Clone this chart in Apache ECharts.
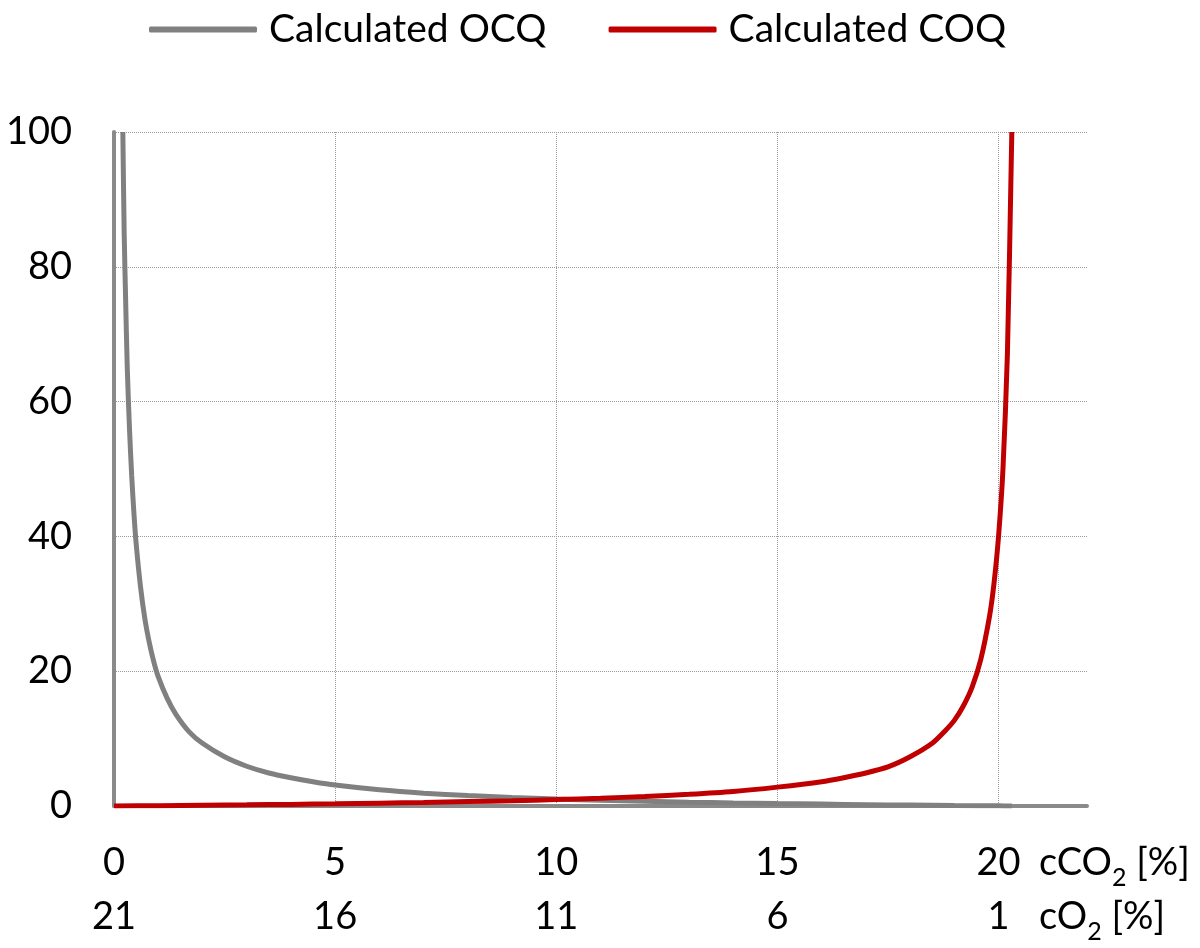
<!DOCTYPE html>
<html>
<head>
<meta charset="utf-8">
<script src="https://cdn.jsdelivr.net/npm/echarts@6/dist/echarts.min.js"></script>
<style>
html,body{margin:0;padding:0;background:#fff;}
#chart{width:1200px;height:948px;}
</style>
</head>
<body>
<div id="chart"></div>
<script>
// ---- data ----
const seriesNames = ['Calculated OCQ', 'Calculated COQ'];

const ocqX = [0.2, 0.23, 0.26, 0.3, 0.35, 0.4, 0.45, 0.5, 0.6, 0.7, 0.8, 0.9, 1.0, 1.2, 1.4, 1.7, 2.0, 2.5, 3.0, 3.5, 4.0, 4.5, 5, 6, 7, 8, 9, 10, 11, 12, 13, 14, 15, 16, 17, 18, 19, 20, 20.3];
const ocqY = [100, 85, 76, 65, 56, 49, 43.5, 39, 32.5, 27.7, 24.2, 21.4, 19.2, 16, 13.6, 11, 9.3, 7.3, 5.9, 4.9, 4.2, 3.6, 3.1, 2.4, 1.9, 1.55, 1.27, 1.04, 0.85, 0.7, 0.57, 0.46, 0.36, 0.28, 0.2, 0.13, 0.07, 0.02, 0];

const coqX = [0, 1, 2, 3, 4, 5, 6, 7, 8, 9, 10, 11, 12, 13, 14, 15, 16, 16.5, 17, 17.5, 18, 18.5, 18.8, 19, 19.2, 19.4, 19.6, 19.8, 19.9, 20.0, 20.1, 20.2, 20.3];
const coqY = [0, 0.05, 0.11, 0.17, 0.24, 0.32, 0.42, 0.52, 0.65, 0.79, 0.95, 1.16, 1.41, 1.73, 2.15, 2.8, 3.6, 4.2, 4.9, 5.8, 7.3, 9.3, 11.2, 12.7, 14.8, 17.6, 21.8, 28.3, 33.2, 40, 50, 67, 100];

const cco2Ticks = [0, 5, 10, 15, 20];
const co2Ticks = [21, 16, 11, 6, 1];
const yTicks = [0, 20, 40, 60, 80, 100];

// ---- chart ----
const FONT = 'Lato';
const ocqData = ocqX.map((x, i) => [x, ocqY[i]]);
const coqData = coqX.map((x, i) => [x, coqY[i]]);

const chart = echarts.init(document.getElementById('chart'), null, {renderer: 'canvas'});
chart.setOption({
  animation: false,
  backgroundColor: '#ffffff',
  textStyle: {fontFamily: FONT},
  legend: {
    data: seriesNames,
    left: 144,
    top: 5,
    icon: 'roundRect',
    itemWidth: 108,
    itemHeight: 6,
    itemGap: 62,
    textStyle: {fontFamily: FONT, fontSize: 39, color: '#000', padding: [0, 0, 0, 7]}
  },
  grid: {left: 114, right: 113, top: 132, bottom: 142, outerBoundsMode: 'none'},
  xAxis: {
    type: 'value',
    min: 0,
    max: 22,
    interval: 5,
    axisLine: {show: true, lineStyle: {color: '#8a8a8a', width: 4}},
    axisTick: {show: false},
    splitLine: {show: true, showMinLine: false, showMaxLine: false, lineStyle: {type: 'dotted', color: '#9a9a9a', width: 1}},
    axisLabel: {
      margin: 30,
      fontFamily: FONT,
      fontSize: 38,
      color: '#000',
      lineHeight: 54,
      showMaxLabel: false,
      formatter: function (v) {
        const i = cco2Ticks.indexOf(v);
        if (i < 0) return '';
        return cco2Ticks[i] + '\n' + co2Ticks[i];
      }
    },
    name: '{a|cCO}{s|2}{a| [%]}\n{a|cO}{s|2}{a| [%]}',
    nameLocation: 'end',
    nameGap: -48,
    nameMoveOverlap: false,
    nameTextStyle: {
      align: 'left',
      verticalAlign: 'top',
      padding: [30, 0, 0, 0],
      lineHeight: 54,
      rich: {
        a: {fontFamily: FONT, fontSize: 38, color: '#000', lineHeight: 54},
        s: {fontFamily: FONT, fontSize: 25, color: '#000', lineHeight: 28, verticalAlign: 'bottom'}
      }
    }
  },
  yAxis: {
    type: 'value',
    min: yTicks[0],
    max: yTicks[yTicks.length - 1],
    interval: 20,
    axisLine: {show: true, lineStyle: {color: '#8a8a8a', width: 4}},
    axisTick: {show: false},
    splitLine: {show: true, lineStyle: {type: 'dotted', color: '#9a9a9a', width: 1}},
    axisLabel: {margin: 42, fontFamily: FONT, fontSize: 38, color: '#000'}
  },
  series: [
    {
      name: seriesNames[0],
      type: 'line',
      data: ocqData,
      showSymbol: false,
      smooth: 0.25,
      color: '#808080',
      lineStyle: {color: '#808080', width: 5},
      z: 3
    },
    {
      name: seriesNames[1],
      type: 'line',
      data: coqData,
      showSymbol: false,
      smooth: 0.25,
      color: '#c00000',
      lineStyle: {color: '#c00000', width: 5},
      z: 4
    }
  ]
});
</script>
</body>
</html>
